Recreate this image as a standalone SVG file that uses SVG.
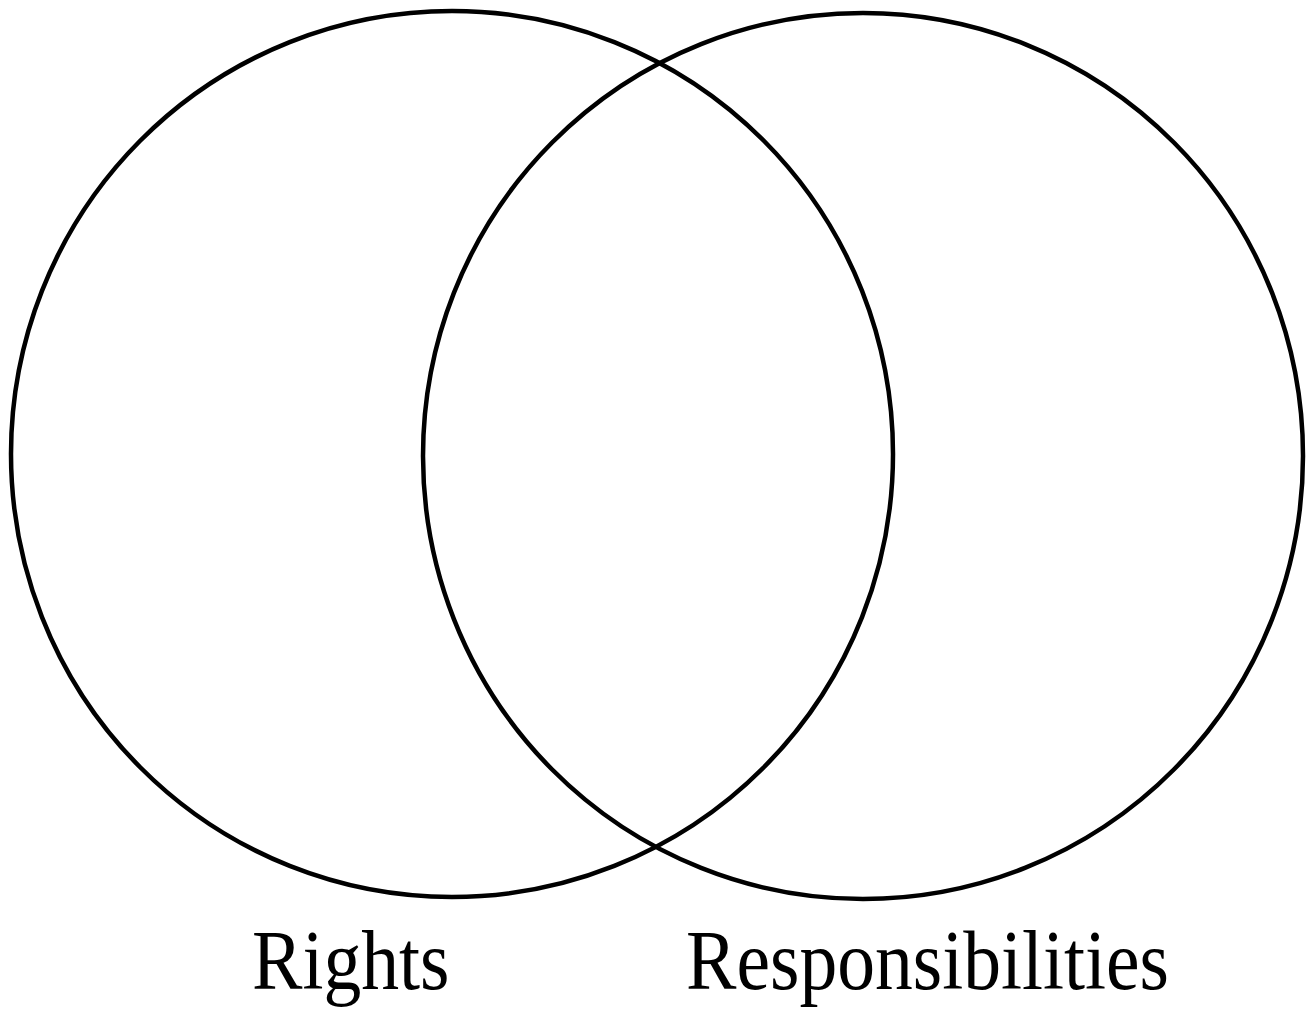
<svg xmlns="http://www.w3.org/2000/svg" width="1312" height="1010" viewBox="0 0 1312 1010">
<style>
.c{fill:none;stroke:#000;stroke-width:4.5}
.t{font-family:"Liberation Serif","Times New Roman",serif;font-size:84px;fill:#000}
</style>
<rect width="1312" height="1010" fill="#fff"/>
<g id="rights">
<ellipse class="c" cx="452" cy="454" rx="441" ry="443"/>
<text class="t" transform="translate(252 989) scale(0.9 1)" x="0" y="0">Rights</text>
</g>
<g id="responsibilities">
<ellipse class="c" cx="863" cy="456" rx="440" ry="443"/>
<text class="t" transform="translate(686 989) scale(0.9 1)" x="0" y="0">Responsibilities</text>
</g>
<g id="connectors"/>
</svg>
